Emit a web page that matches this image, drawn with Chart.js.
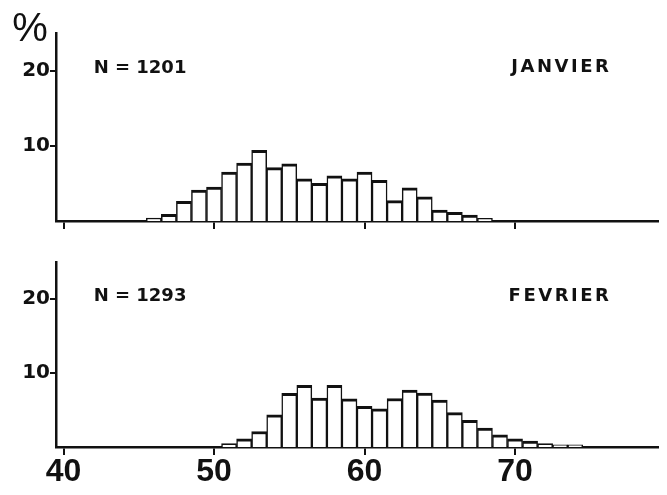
<!DOCTYPE html>
<html>
<head>
    <title>Histogrammes</title>
    <script src="https://cdn.jsdelivr.net/npm/chart.js"></script>
    <style>
        body { margin: 0; background: #fff; }
        #wrap { position: relative; width: 667px; height: 495px; }
        #c1 { position: absolute; left: 0; top: 0; }
        #c2 { position: absolute; left: 0; top: 240px; }
    </style>
</head>
<body>
    <div id="wrap">
        <canvas id="c1" width="667" height="240"></canvas>
        <canvas id="c2" width="667" height="255"></canvas>
    </div>
    <script>
        const xTicks = [40, 50, 60, 70];
        const yTicks = [10, 20];

        // classes (centre de la classe) et pourcentages
        const janvierBins = [46, 47, 48, 49, 50, 51, 52, 53, 54, 55, 56, 57, 58, 59, 60, 61, 62, 63, 64, 65, 66, 67, 68];
        const janvierPct = [0.4, 0.9, 2.6, 4.1, 4.5, 6.5, 7.7, 9.4, 7.1, 7.6, 5.6, 5.0, 6.0, 5.6, 6.5, 5.4, 2.7, 4.4, 3.2, 1.45, 1.15, 0.8, 0.35];

        const fevrierBins = [51, 52, 53, 54, 55, 56, 57, 58, 59, 60, 61, 62, 63, 64, 65, 66, 67, 68, 69, 70, 71, 72, 73, 74];
        const fevrierPct = [0.45, 1.1, 2.1, 4.35, 7.25, 8.35, 6.6, 8.35, 6.5, 5.5, 5.15, 6.55, 7.7, 7.3, 6.35, 4.65, 3.6, 2.55, 1.65, 1.1, 0.8, 0.45, 0.3, 0.3];

        const ink = '#111';

        const panelText = {
            id: 'panelText',
            afterDraw(chart, args, opts) {
                const ctx = chart.ctx;
                const x = chart.scales.x, y = chart.scales.y;
                ctx.save();
                ctx.fillStyle = ink;
                ctx.textBaseline = 'middle';
                ctx.font = 'bold 18px "DejaVu Sans"';
                ctx.textAlign = 'left';
                ctx.fillText(opts.count, x.getPixelForValue(42), y.getPixelForValue(20.3));
                ctx.letterSpacing = '2.5px';
                ctx.textAlign = 'right';
                ctx.fillText(opts.month, x.getPixelForValue(76.4), y.getPixelForValue(20.4));
                ctx.letterSpacing = '0px';
                if (opts.percent) {
                    ctx.font = '40px "Liberation Sans"';
                    ctx.textAlign = 'center';
                    ctx.fillText('%', chart.chartArea.left - 26, chart.chartArea.top - 3);
                }
                ctx.restore();
            }
        };

        function createChart(canvasId, bins, pct, count, month, showLabels, padTop, xHeight) {
            const ctx = document.getElementById(canvasId).getContext('2d');
            return new Chart(ctx, {
                type: 'bar',
                data: {
                    datasets: [{
                        data: bins.map((b, i) => ({ x: b, y: pct[i] })),
                        backgroundColor: '#fff',
                        borderColor: ink,
                        borderWidth: { top: 3, left: 1.5, right: 1.5, bottom: 0 },
                        borderSkipped: false,
                        barPercentage: 1,
                        categoryPercentage: 1
                    }]
                },
                options: {
                    responsive: false,
                    animation: false,
                    devicePixelRatio: 1,
                    layout: { padding: { top: padTop, right: 9, left: 0, bottom: 0 } },
                    plugins: {
                        legend: { display: false },
                        tooltip: { enabled: false },
                        panelText: { count: count, month: month, percent: !showLabels }
                    },
                    scales: {
                        x: {
                            type: 'linear',
                            min: 39.5,
                            max: 79.5,
                            offset: false,
                            afterBuildTicks: axis => { axis.ticks = xTicks.map(v => ({ value: v })); },
                            afterFit: axis => { axis.height = xHeight; },
                            grid: { offset: false, drawOnChartArea: false, drawTicks: true, tickLength: 8, color: ink, lineWidth: 2 },
                            border: { display: true, color: ink, width: 2.5 },
                            ticks: {
                                display: showLabels,
                                color: ink,
                                padding: 1,
                                maxRotation: 0,
                                font: { family: '"Liberation Sans"', size: 32, weight: 'bold', lineHeight: 1 }
                            }
                        },
                        y: {
                            min: 0,
                            max: 25,
                            afterBuildTicks: axis => { axis.ticks = yTicks.map(v => ({ value: v })); },
                            afterFit: axis => { axis.width = 56; },
                            grid: { drawOnChartArea: false, drawTicks: true, tickLength: 6, color: ink, lineWidth: 2 },
                            border: { display: true, color: ink, width: 2.5 },
                            ticks: {
                                color: ink,
                                padding: 0,
                                font: { family: '"DejaVu Sans"', size: 20, weight: 'bold' }
                            }
                        }
                    }
                },
                plugins: [panelText]
            });
        }

        createChart('c1', janvierBins, janvierPct, 'N = 1201', 'JANVIER', false, 33, 19);
        createChart('c2', fevrierBins, fevrierPct, 'N = 1293', 'FEVRIER', true, 22, 48);
    </script>
</body>
</html>
